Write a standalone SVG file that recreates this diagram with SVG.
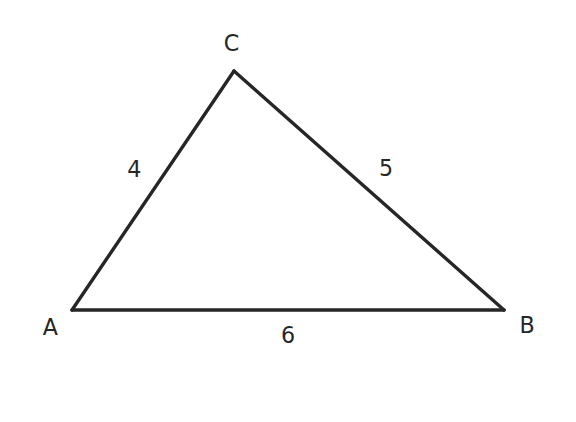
<svg xmlns="http://www.w3.org/2000/svg" width="576" height="422" viewBox="0 0 576 422">
<style>
.edge{fill:none;stroke:#262626;stroke-width:3.4;stroke-linejoin:miter;stroke-linecap:round}
.lbl{font-family:"DejaVu Sans",sans-serif;font-size:22.2px;fill:#262626;text-anchor:middle}
</style>
<rect width="576" height="422" fill="#ffffff"/>
<g id="connectors">
<line class="edge" x1="72" y1="310" x2="504" y2="310"/>
<line class="edge" x1="72" y1="310" x2="234" y2="71"/>
<line class="edge" x1="234" y1="71" x2="504" y2="310"/>
</g>
<g id="A"><text class="lbl" x="50.3" y="335">A</text></g>
<g id="B"><text class="lbl" x="527" y="333">B</text></g>
<g id="C"><text class="lbl" x="231.5" y="51">C</text></g>
<g id="labels">
<text class="lbl" x="134.3" y="177">4</text>
<text class="lbl" x="386" y="176">5</text>
<text class="lbl" x="288" y="343">6</text>
</g>
</svg>
